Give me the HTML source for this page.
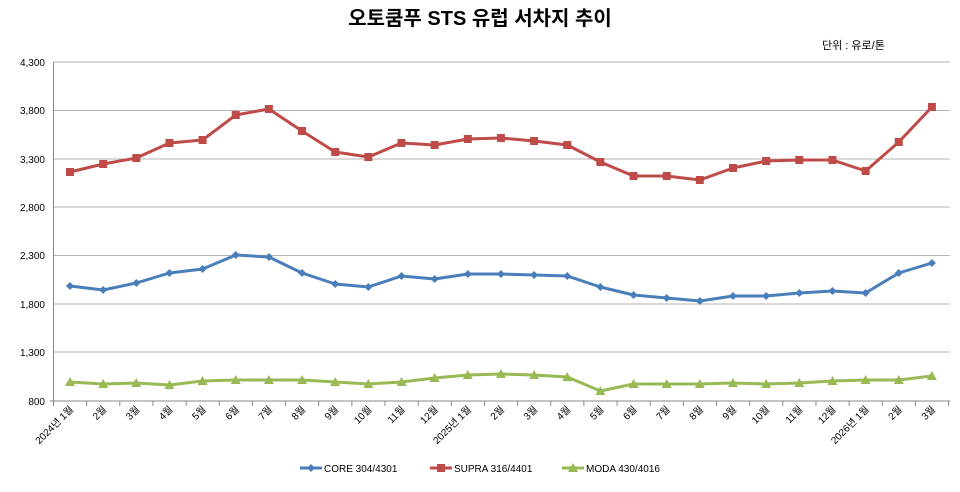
<!DOCTYPE html>
<html><head><meta charset="utf-8"><style>
body{margin:0;background:#fff;}
svg{display:block;font-family:"Liberation Sans","Noto Sans CJK KR",sans-serif;}
</style></head><body>
<svg width="960" height="492" viewBox="0 0 960 492">
<text x="480" y="25" text-anchor="middle" font-size="20" font-weight="bold" fill="#000">오토쿰푸 STS 유럽 서차지 추이</text>
<text x="822" y="49" font-size="11" fill="#000">단위 : 유로/톤</text>
<g stroke="#b3b3b3" stroke-width="1">
<line x1="53" y1="62" x2="950" y2="62"/><line x1="53" y1="110.5" x2="950" y2="110.5"/>
<line x1="53" y1="159" x2="950" y2="159"/><line x1="53" y1="207" x2="950" y2="207"/>
<line x1="53" y1="255.5" x2="950" y2="255.5"/><line x1="53" y1="304" x2="950" y2="304"/>
<line x1="53" y1="352" x2="950" y2="352"/>
</g>
<g stroke="#888" stroke-width="1"><line x1="53.5" y1="62" x2="53.5" y2="401"/><line x1="50" y1="401" x2="950" y2="401"/></g>
<g font-size="10" fill="#000" text-anchor="end">
<text x="45" y="66">4,300</text><text x="45" y="114">3,800</text><text x="45" y="163">3,300</text>
<text x="45" y="211">2,800</text><text x="45" y="259">2,300</text><text x="45" y="308">1,800</text>
<text x="45" y="356">1,300</text><text x="45" y="405">800</text>
</g>
<g id="ticks" stroke="#888"></g>
<g id="labels" font-size="10" fill="#000" text-anchor="end"></g>
<g id="series"></g>
<g font-size="10" fill="#000">
<line x1="300" y1="468" x2="322" y2="468" stroke="#4a7ebb" stroke-width="3"/><path d="M311 464 L315 468 L311 472 L307 468Z" fill="#4a7ebb"/>
<text x="324" y="472">CORE 304/4301</text>
<line x1="430" y1="468" x2="452" y2="468" stroke="#be4b48" stroke-width="3"/><rect x="437" y="464" width="8" height="8" fill="#be4b48"/>
<text x="454" y="472">SUPRA 316/4401</text>
<line x1="562" y1="468" x2="584" y2="468" stroke="#98b954" stroke-width="3"/><path d="M573 463 L578 472 L568 472Z" fill="#98b954"/>
<text x="586" y="472">MODA 430/4016</text>
</g>
</svg>
<script>
var ns="http://www.w3.org/2000/svg";
function el(t,a,p){var e=document.createElementNS(ns,t);for(var k in a)e.setAttribute(k,a[k]);p.appendChild(e);return e;}
var step=33.15,x0=70;
var labs=["2024년 1월","2월","3월","4월","5월","6월","7월","8월","9월","10월","11월","12월","2025년 1월","2월","3월","4월","5월","6월","7월","8월","9월","10월","11월","12월","2026년 1월","2월","3월"];
var tk=document.getElementById("ticks"),lb=document.getElementById("labels");
for(var i=0;i<=27;i++){var x=53.5+i*step;el("line",{x1:x,y1:401,x2:x,y2:406},tk);}
labs.forEach(function(l,i){var x=x0+i*step+4,y=410;var t=el("text",{x:x,y:y,transform:"rotate(-45 "+x+" "+y+")"},lb);t.textContent=l;});
var core=[286,290,283,273,269,255,257,273,284,287,276,279,274,274,275,276,287,295,298,301,296,296,293,291,293,273,263];
var supra=[172,164,158,143,140,115,109,131,152,157,143,145,139,138,141,145,162,176,176,180,168,161,160,160,171,142,107];
var moda=[382,384,383,385,381,380,380,380,382,384,382,378,375,374,375,377,391,384,384,384,383,384,383,381,380,380,376];
var sg=document.getElementById("series");
function draw(d,c,m){var pts=d.map(function(y,i){return (x0+i*step).toFixed(1)+","+y;}).join(" ");
el("polyline",{points:pts,fill:"none",stroke:c,"stroke-width":3,"stroke-linejoin":"round"},sg);
d.forEach(function(y,i){var x=x0+i*step;
if(m=="d")el("path",{d:"M"+x+" "+(y-4)+"L"+(x+4)+" "+y+"L"+x+" "+(y+4)+"L"+(x-4)+" "+y+"Z",fill:c},sg);
else if(m=="s")el("rect",{x:x-4,y:y-4,width:8,height:8,fill:c},sg);
else el("path",{d:"M"+x+" "+(y-5)+"L"+(x+5)+" "+(y+4)+"L"+(x-5)+" "+(y+4)+"Z",fill:c},sg);});}
draw(core,"#4a7ebb","d");draw(supra,"#be4b48","s");draw(moda,"#98b954","t");
</script>
</body></html>
